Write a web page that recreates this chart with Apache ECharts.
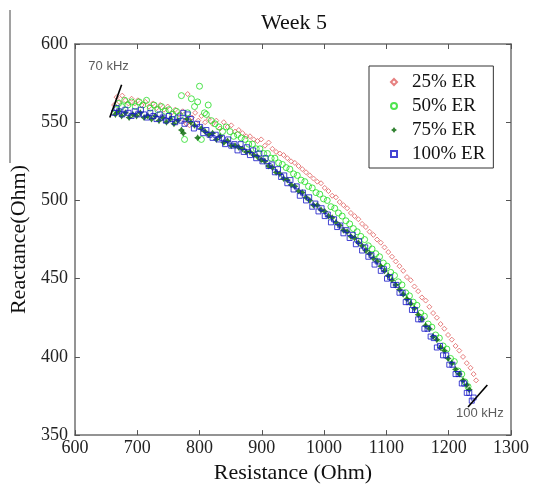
<!DOCTYPE html>
<html>
<head>
<meta charset="utf-8">
<script src="https://cdn.jsdelivr.net/npm/echarts@6/dist/echarts.min.js"></script>
<style>
html,body{margin:0;padding:0;background:#fff;}
#chart{width:533px;height:489px;}
</style>
</head>
<body>
<div id="chart"></div>
<script>
// ---- data ----
var titleText = 'Week 5';
var xName = 'Resistance (Ohm)';
var yName = 'Reactance(Ohm)';
var xTicks = [600, 700, 800, 900, 1000, 1100, 1200, 1300];
var yTicks = [350, 400, 450, 500, 550, 600];
var seriesNames = ['25% ER', '50% ER', '75% ER', '100% ER'];

var er25 = [[663,561],[667,566],[671,563],[676,567],[681,564],[686,562],[691,565],[696,562],[701,564],[707,561],[713,563],[719,560],[725,562],[731,559],[737,561],[743,558],[749,560],[755,556],[761,558],[767,555],[773,557],[776,551],[779,549],[781,568],[784,548],[788,553],[793,556],[798,551],[803,554],[809,550],[815,552],[821,549],[827,551],[833,546],[839,550],[845,547],[851,548],[857,544],[863,545],[869,543],[875,541],[881,541],[887,539],[893,538],[899,539],[905,535],[911,537],[917,533],[923,531],[929,530],[935,529],[941,527],[947,525],[953,524],[959,522],[965,520],[971,518],[977,516],[983,514],[989,512],[995,511],[1001,508],[1007,506],[1013,503],[1019,502],[1025,499],[1031,497],[1037,495],[1043,492],[1049,490],[1055,488],[1061,485],[1067,483],[1073,480],[1079,478],[1085,475],[1091,473],[1097,470],[1103,467],[1109,464],[1115,461],[1121,458],[1127,455],[1133,451],[1139,449],[1145,445],[1151,442],[1157,438],[1163,436],[1169,432],[1175,428],[1181,425],[1187,421],[1193,418],[1199,414],[1205,411],[1211,407],[1217,404],[1223,400],[1229,396],[1235,393],[1240,389],[1244,385]];

var er50 = [[666,558],[670,562],[675,560],[680,564],[685,561],[691,563],[697,560],[703,563],[709,561],[715,564],[721,559],[727,561],[733,558],[739,560],[745,557],[751,558],[757,555],[763,557],[769,554],[771,567],[776,539],[781,556],[787,565],[792,560],[797,563],[800,573],[803,539],[808,556],[811,555],[814,561],[819,551],[825,549],[831,547],[837,544],[843,547],[849,544],[855,541],[861,542],[867,540],[873,539],[879,536],[885,536],[891,533],[897,533],[903,530],[909,530],[915,527],[921,527],[927,524],[933,523],[939,521],[945,520],[951,517],[957,516],[963,513],[969,512],[975,509],[981,508],[987,505],[993,504],[999,501],[1005,500],[1011,496],[1017,495],[1023,492],[1029,490],[1035,487],[1041,485],[1047,482],[1053,480],[1059,477],[1065,475],[1071,471],[1077,469],[1083,466],[1089,464],[1095,460],[1101,458],[1107,454],[1113,452],[1119,448],[1125,446],[1131,441],[1137,439],[1143,435],[1149,433],[1155,428],[1161,426],[1167,421],[1173,419],[1179,414],[1185,412],[1191,407],[1197,405],[1203,399],[1209,397],[1215,391],[1221,389],[1226,384],[1231,381]];

var er75 = [[665,555],[670,557],[675,554],[681,556],[687,553],[693,555],[699,554],[705,556],[711,553],[717,554],[723,552],[729,554],[735,551],[741,553],[747,550],[753,552],[759,549],[765,551],[771,545],[774,543],[780,552],[786,550],[792,548],[797,540],[803,546],[809,544],[815,542],[821,543],[827,539],[833,541],[839,537],[845,538],[851,535],[857,535],[863,534],[869,533],[875,531],[881,531],[887,529],[893,528],[899,526],[905,525],[911,522],[917,521],[923,518],[929,517],[935,514],[941,513],[947,510],[953,509],[959,506],[965,505],[971,502],[977,500],[983,497],[989,497],[995,494],[1001,493],[1007,490],[1013,489],[1019,486],[1025,484],[1031,481],[1037,480],[1043,477],[1049,476],[1055,473],[1061,471],[1067,468],[1073,466],[1079,463],[1085,461],[1091,458],[1097,455],[1103,452],[1109,449],[1115,446],[1121,443],[1127,440],[1133,437],[1139,434],[1145,431],[1151,427],[1157,424],[1163,420],[1169,418],[1175,413],[1181,411],[1187,406],[1193,404],[1199,399],[1205,396],[1211,392],[1217,389],[1223,385],[1229,382],[1233,379]];

var er100 = [[663,556],[667,559],[671,557],[676,555],[681,558],[686,556],[691,554],[696,557],[701,555],[706,558],[711,555],[716,553],[721,556],[726,554],[731,552],[736,555],[741,553],[746,551],[751,554],[756,552],[761,550],[766,553],[771,551],[774,556],[776,549],[781,555],[786,552],[791,546],[796,549],[801,547],[806,543],[811,545],[816,542],[821,540],[826,542],[831,539],[836,540],[841,536],[846,539],[851,535],[856,536],[861,532],[866,536],[871,531],[876,534],[881,529],[886,532],[891,527],[896,530],[901,525],[906,527],[911,522],[916,523],[921,518],[926,520],[931,515],[936,516],[941,511],[946,513],[951,507],[956,509],[961,503],[966,505],[971,500],[976,502],[981,496],[986,498],[991,493],[996,495],[1001,490],[1006,491],[1011,486],[1016,488],[1021,483],[1026,484],[1031,479],[1036,481],[1041,476],[1046,478],[1051,472],[1056,474],[1061,468],[1066,470],[1071,464],[1076,465],[1081,459],[1086,461],[1091,455],[1096,456],[1101,450],[1106,451],[1111,446],[1116,446],[1121,441],[1126,441],[1131,435],[1136,435],[1141,430],[1146,430],[1151,424],[1156,424],[1161,418],[1166,418],[1171,413],[1176,412],[1181,406],[1186,407],[1191,401],[1196,401],[1201,395],[1206,395],[1211,389],[1216,389],[1221,383],[1225,383],[1229,377],[1233,377],[1237,372],[1240,374]];

var line70 = [[656,553],[675,574]];
var line100 = [[1231,368],[1262,382]];
var labels = [{name:'70 kHz', value:[654,585.5]}, {name:'100 kHz', value:[1250,364]}];

// ---- chart ----
var chart = echarts.init(document.getElementById('chart'), null, {renderer:'canvas'});
var serif = 'Liberation Serif, Times New Roman, serif';
var sans = 'Liberation Sans, Arial, sans-serif';
var axisCol = '#707070';

function xAx(pos, show){
  return {type:'value', position:pos, min:xTicks[0], max:xTicks[xTicks.length-1], interval:100,
    name: show ? xName : '', nameLocation:'middle', nameGap:24,
    nameTextStyle:{fontFamily:serif, fontSize:22, color:'#111'},
    axisLine:{show:true, onZero:false, lineStyle:{color:axisCol, width:1.5}},
    axisTick:{show:true, inside:true, length:5, lineStyle:{color:'#555'}},
    axisLabel:{show:show, fontFamily:serif, fontSize:18, color:'#222', margin:4,
      formatter:function(v){return String(v);}},
    splitLine:{show:false}};
}
function yAx(pos, show){
  return {type:'value', position:pos, min:yTicks[0], max:yTicks[yTicks.length-1], interval:50,
    name: show ? yName : '', nameLocation:'middle', nameGap:37,
    nameTextStyle:{fontFamily:serif, fontSize:22, color:'#111'},
    axisLine:{show:true, onZero:false, lineStyle:{color:axisCol, width:1.5}},
    axisTick:{show:true, inside:true, length:5, lineStyle:{color:'#555'}},
    axisLabel:{show:show, fontFamily:serif, fontSize:18, color:'#222', margin:7,
      formatter:function(v){return String(v);}},
    splitLine:{show:false}};
}

var starPath = 'path://M0,-5L2,-2L5,0L2,2L0,5L-2,2L-5,0L-2,-2Z';

function sc(name, data, symbol, size, color, filled){
  return {type:'scatter', name:name, data:data, symbol:symbol, symbolSize:size,
    xAxisIndex:0, yAxisIndex:0,
    itemStyle: filled ? {color:color} : {color:'rgba(255,255,255,0)', borderColor:color, borderWidth:1},
    emphasis:{disabled:true}};
}

var option = {
  animation:false,
  backgroundColor:'#fff',
  title:{text:titleText, left:256, top:7, textStyle:{fontFamily:serif, fontSize:22, fontWeight:'normal', color:'#111'}},
  grid:{left:70, right:22, top:44, bottom:47, containLabel:false},
  xAxis:[xAx('bottom', true), xAx('top', false)],
  yAxis:[yAx('left', true), yAx('right', false)],
  legend:{data:seriesNames, orient:'vertical', left:369, top:66,
    itemWidth:6, itemHeight:6, itemGap:4,
    padding:[6,8,4,21], borderColor:'#333', borderWidth:1, backgroundColor:'#fff',
    textStyle:{fontFamily:serif, fontSize:19, color:'#111', lineHeight:20, padding:[0,0,0,10]}},
  graphic:[{type:'line', shape:{x1:10, y1:10, x2:10, y2:163}, style:{stroke:'#444', lineWidth:1}}],
  series:[
    sc(seriesNames[0], er25, 'diamond', 5, '#e06060', false),
    sc(seriesNames[1], er50, 'circle', 6, '#22dd22', false),
    sc(seriesNames[2], er75, starPath, 7, '#006400', true),
    sc(seriesNames[3], er100, 'rect', 5, '#1515c8', false),
    {type:'line', name:'l70', data:line70, symbol:'none', silent:true, lineStyle:{color:'#000', width:1.6}, z:5},
    {type:'line', name:'l100', data:line100, symbol:'none', silent:true, lineStyle:{color:'#000', width:1.6}, z:5},
    {type:'scatter', name:'labels', data:labels, symbolSize:0, silent:true,
      label:{show:true, position:'inside', formatter:'{b}', fontFamily:sans, fontSize:13, color:'#333'}}
  ]
};
chart.setOption(option);
</script>
</body>
</html>
